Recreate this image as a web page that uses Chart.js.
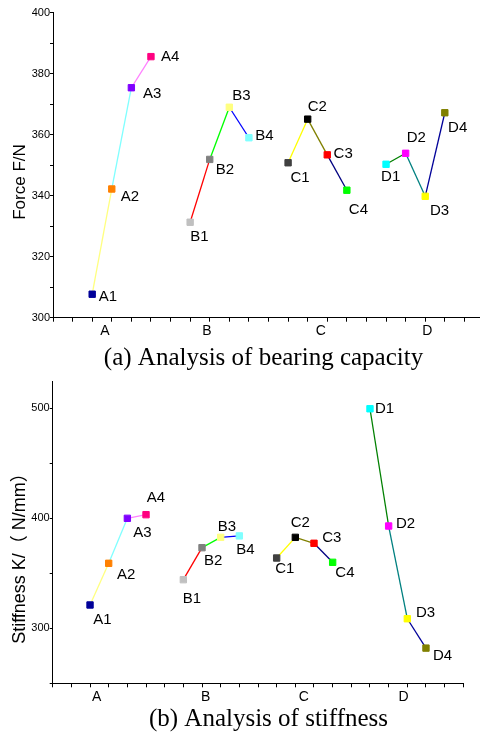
<!DOCTYPE html>
<html><head><meta charset="utf-8">
<script src="https://cdn.jsdelivr.net/npm/chart.js@4/dist/chart.umd.min.js"></script>
<style>
html,body{margin:0;padding:0;overflow:hidden;background:#fff;width:480px;height:734px}
#c1{position:absolute;left:0;top:0}
#c2{position:absolute;left:0;top:372px}
</style></head><body>
<canvas id="c1" width="490" height="372"></canvas>
<canvas id="c2" width="480" height="362"></canvas>
<script>
// ---------- data ----------
const groups = ['A', 'B', 'C', 'D'];
const forceA = [307.7, 342.2, 375.4, 385.6];
const forceB = [331.3, 351.9, 369.0, 359.0];
const forceC = [350.8, 365.1, 353.4, 341.8];
const forceD = [350.3, 353.9, 339.8, 367.2];
const stiffA = [321.2, 359.1, 400.0, 403.3];
const stiffB = [344.2, 373.3, 382.7, 384.0];
const stiffC = [363.9, 382.7, 377.3, 360.0];
const stiffD = [499.6, 393.0, 308.7, 282.0];
const forceYLabels = [300, 320, 340, 360, 380, 400];
const stiffYLabels = [300, 400, 500];
const forceGroupTickX = [2.65, 7.86, 13.67, 19.1];
const stiffGroupTickX = [2.36, 8.19, 13.45, 18.8];

// ---------- styles ----------
const SANS = '"Liberation Sans", Arial, "Noto Sans CJK SC", sans-serif';
const SERIF = '"Liberation Serif", "Times New Roman", serif';
const markerColors = [
  ['#000099', '#ff8000', '#8000ff', '#ff0080'],
  ['#c0c0c0', '#808080', '#ffff80', '#80ffff'],
  ['#404040', '#000000', '#ff0000', '#00ff00'],
  ['#00ffff', '#ff00ff', '#ffff00', '#808000']
];
const segmentColors = [
  ['#ffff80', '#80ffff', '#ff80ff'],
  ['#ff0000', '#00ff00', '#0000ff'],
  ['#ffff00', '#808000', '#000080'],
  ['#008000', '#008080', '#000099']
];
const forceLabelOffsets = [
  [6.6, 3], [9, 7.7], [11.6, 6.6], [10, 0],
  [0, 14.4], [6, 10], [3, -11], [6.4, -1.5],
  [2.4, 14.6], [0, -12.3], [6.3, -1.4], [2, 19.7],
  [-5, 13], [1, -15], [4.7, 14.4], [3.3, 15.6]
];
const stiffLabelOffsets = [
  [3.3, 15], [8.3, 11.7], [6, 15], [0.7, -16.4],
  [-0.6, 19.3], [2, 13], [-3, -10.6], [-3, 14],
  [-1.4, 11], [-4.6, -14], [8.3, -5.6], [2.7, 10.4],
  [5, 0], [7.3, -1.7], [8.7, -6], [7, 8]
];

const annotate = {
  id: 'annotate',
  afterDatasetsDraw(chart, args, opts) {
    const ctx = chart.ctx;
    ctx.save();
    ctx.fillStyle = '#000';
    ctx.font = '15px ' + SANS;
    ctx.textAlign = 'left';
    ctx.textBaseline = 'middle';
    chart.data.datasets.forEach((ds, g) => {
      chart.getDatasetMeta(g).data.forEach((pt, i) => {
        const off = opts.offsets[g * 4 + i];
        ctx.fillText(groups[g] + (i + 1), pt.x + off[0], pt.y + off[1]);
      });
    });
    ctx.font = '25px ' + SERIF;
    ctx.textAlign = 'center';
    ctx.textBaseline = 'alphabetic';
    ctx.fillText(opts.caption, opts.captionX, chart.chartArea.bottom + opts.captionDy);
    ctx.translate(opts.yTitleX, opts.yTitleY);
    ctx.rotate(-Math.PI / 2);
    ctx.font = opts.yTitleSize + 'px ' + SANS;
    ctx.textBaseline = 'middle';
    ctx.fillText(opts.yTitle, 0, 0);
    ctx.restore();
  }
};

function makeChart(id, series, cfg) {
  const datasets = series.map((vals, g) => ({
    data: vals.map((v, i) => ({ x: g * 5 + i + 2, y: v })),
    borderWidth: 1.3,
    borderColor: segmentColors[g][0],
    segment: { borderColor: c => segmentColors[g][c.p0DataIndex] },
    pointStyle: 'rect',
    pointRadius: 4.5,
    pointBorderWidth: 1,
    pointBackgroundColor: markerColors[g],
    pointBorderColor: markerColors[g],
    fill: false,
    tension: 0
  }));
  return new Chart(document.getElementById(id), {
    type: 'line',
    data: { datasets },
    plugins: [annotate],
    options: {
      responsive: false,
      animation: false,
      devicePixelRatio: 1,
      layout: { padding: { left: 0, right: cfg.padRight, top: cfg.padTop, bottom: 0 } },
      plugins: {
        legend: { display: false },
        tooltip: { enabled: false },
        annotate: {
          offsets: cfg.offsets, caption: cfg.caption, captionX: cfg.captionX,
          captionDy: cfg.captionDy, yTitle: cfg.yTitle, yTitleSize: cfg.yTitleSize,
          yTitleX: 20.5, yTitleY: 182
        }
      },
      scales: {
        x: {
          type: 'linear', min: 0, max: 22,
          afterBuildTicks: s => {
            const t = [];
            for (let v = 0; v <= 22; v++) t.push({ value: v });
            cfg.groupTickX.forEach(v => t.push({ value: v }));
            t.sort((a, b) => a.value - b.value);
            s.ticks = t;
          },
          afterFit: s => { s.height = cfg.xAxisH; },
          ticks: {
            autoSkip: false, maxRotation: 0, minRotation: 0, padding: 1,
            color: '#000', font: { size: 14, family: SANS },
            callback: v => { const k = cfg.groupTickX.indexOf(v); return k >= 0 ? groups[k] : ''; }
          },
          grid: {
            drawOnChartArea: false, drawTicks: true, tickLength: 4, tickWidth: 1,
            tickColor: c => (c.tick && cfg.groupTickX.includes(c.tick.value)) ? 'rgba(0,0,0,0)' : '#000'
          },
          border: { display: true, color: '#000', width: 1 }
        },
        y: {
          type: 'linear', min: cfg.yMin, max: cfg.yMax,
          afterBuildTicks: s => {
            const t = [];
            for (let v = cfg.yMin; v <= cfg.yMax + 1e-6; v += cfg.yStep) t.push({ value: v });
            s.ticks = t;
          },
          afterFit: s => { s.width = cfg.yAxisW; },
          ticks: {
            padding: 0, color: '#000', font: { size: 11, family: SANS },
            callback: v => cfg.yLabels.includes(v) ? String(v) : ''
          },
          grid: { drawOnChartArea: false, drawTicks: true, tickLength: 3, tickColor: '#000' },
          border: { display: true, color: '#000', width: 1 }
        }
      }
    }
  });
}

makeChart('c1', [forceA, forceB, forceC, forceD], {
  yMin: 300, yMax: 400, yStep: 10, yLabels: forceYLabels,
  groupTickX: forceGroupTickX, offsets: forceLabelOffsets,
  padRight: 6, padTop: 12.7, xAxisH: 372 - 317.7, yAxisW: 53,
  caption: '(a) Analysis of bearing capacity', captionX: 263.5, captionDy: 46.8,
  yTitle: 'Force F/N', yTitleSize: 17
});
makeChart('c2', [stiffA, stiffB, stiffC, stiffD], {
  yMin: 250, yMax: 524.2, yStep: 50, yLabels: stiffYLabels,
  groupTickX: stiffGroupTickX, offsets: stiffLabelOffsets,
  padRight: 16.7, padTop: 9.7, xAxisH: 362 - 311.3, yAxisW: 52.7,
  caption: '(b) Analysis of stiffness', captionX: 268.5, captionDy: 42.5,
  yTitle: 'Stiffness K/（ N/mm）', yTitleSize: 18
});
</script>
</body></html>
